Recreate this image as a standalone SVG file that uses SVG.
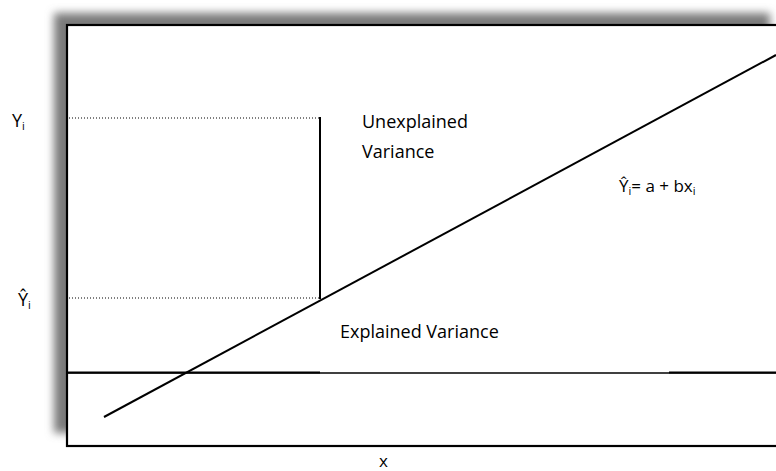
<svg xmlns="http://www.w3.org/2000/svg" width="776" height="471" viewBox="0 0 776 471">
<defs>
<filter id="blur" x="-10%" y="-10%" width="120%" height="120%"><feGaussianBlur stdDeviation="4.5"/></filter>
<style>
text{font-family:"Open Sans","Liberation Sans",sans-serif;fill:#000;}
.lbl{font-size:18px;}
.eq{font-size:17px;}
.sub{font-size:11px;}
.dot{stroke:#000;stroke-width:1.2;stroke-dasharray:1 2;fill:none;}
.ln{stroke:#000;fill:none;}
</style>
</defs>
<rect width="776" height="471" fill="#fff"/>
<g id="frame">
<rect x="54" y="13" width="716" height="420" fill="#7a7a7a" filter="url(#blur)"/>
<rect x="67" y="25" width="730" height="421" fill="#fff" stroke="#000" stroke-width="2.2"/>
</g>
<g id="connectors">
<line class="ln" x1="67" y1="373" x2="776" y2="373" stroke-width="1.3"/>
<line class="ln" x1="67" y1="372.5" x2="320" y2="372.5" stroke-width="2"/>
<line class="ln" x1="669" y1="372.5" x2="776" y2="372.5" stroke-width="2"/>
<line class="ln" x1="104" y1="417" x2="776" y2="55" stroke-width="2"/>
<line class="dot" x1="69" y1="118" x2="320" y2="118"/>
<line class="dot" x1="69" y1="298" x2="320" y2="298"/>
<line class="ln" x1="320" y1="117" x2="320" y2="299" stroke-width="2"/>
</g>
<g id="label-yi"><text class="lbl" x="12" y="127">Y<tspan class="sub" dy="3">i</tspan></text></g>
<g id="label-yhat"><text class="lbl" x="18" y="306">Ŷ<tspan class="sub" dy="3">i</tspan></text></g>
<g id="label-unexplained"><text class="lbl" x="362" y="128">Unexplained</text><text class="lbl" x="362" y="158">Variance</text></g>
<g id="label-equation"><text class="eq" x="619" y="192">Ŷ<tspan class="sub" dy="3">i</tspan><tspan dy="-3">= a + bx</tspan><tspan class="sub" dy="3">i</tspan></text></g>
<g id="label-explained"><text class="lbl" x="340" y="338">Explained Variance</text></g>
<g id="label-x"><text class="eq" x="379" y="467">x</text></g>
</svg>
